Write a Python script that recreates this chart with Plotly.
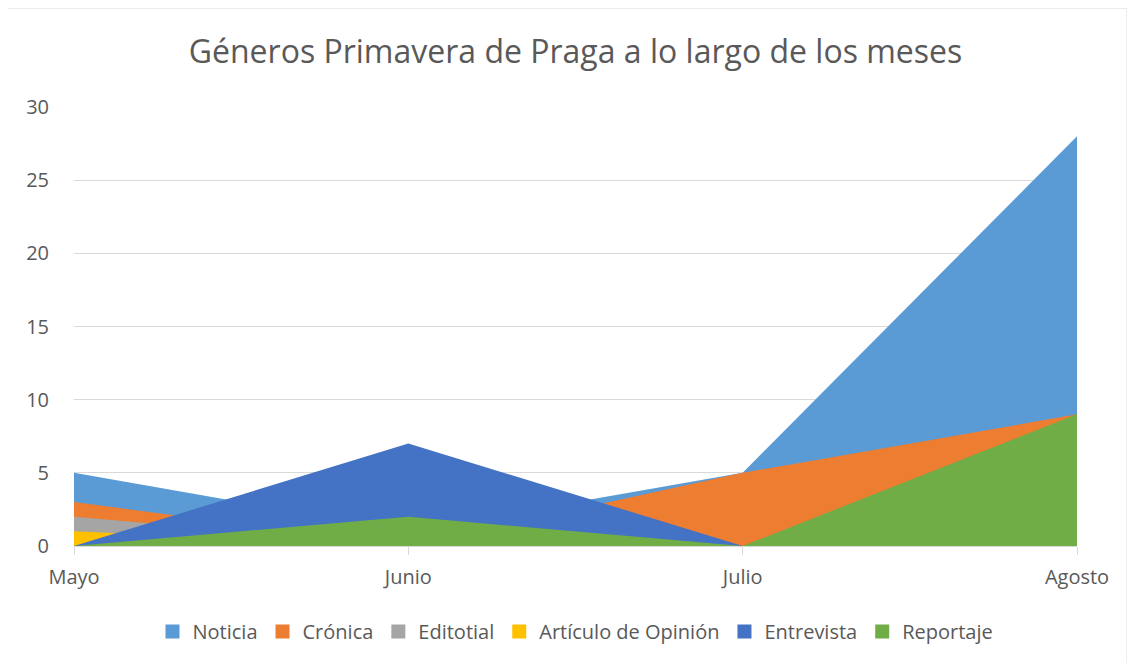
import plotly.graph_objects as go

months = ["Mayo", "Junio", "Julio", "Agosto"]
noticia = [5, 1, 5, 28]
cronica = [3, 0, 5, 9]
editotial = [2, 0, 0, 0]
articulo = [1, 0, 0, 0]
entrevista = [0, 7, 0, 0]
reportaje = [0, 2, 0, 9]

series = [
    ("Noticia", noticia, "#5B9BD5"),
    ("Crónica", cronica, "#ED7D31"),
    ("Editotial", editotial, "#A5A5A5"),
    ("Artículo de Opinión", articulo, "#FFC000"),
    ("Entrevista", entrevista, "#4472C4"),
    ("Reportaje", reportaje, "#70AD47"),
]

fig = go.Figure()
for name, vals, color in series:
    fig.add_trace(go.Scatter(
        x=months, y=vals, name=name, mode="lines",
        line=dict(width=0, color=color), fill="tozeroy",
        fillcolor=color, hoverinfo="x+y+name", showlegend=False,
    ))
# legend entries with square swatches
for name, vals, color in series:
    fig.add_trace(go.Scatter(
        x=[None], y=[None], name=name, mode="markers",
        marker=dict(symbol="square", size=14, color=color),
        showlegend=True, hoverinfo="skip",
    ))

font_family = "Open Sans, Lato, sans-serif"
H = 663
fig.update_layout(
    width=1135, height=H,
    margin=dict(l=66, r=66, t=99, b=125),
    paper_bgcolor="white", plot_bgcolor="white",
    title=dict(text="Géneros Primavera de Praga a lo largo de los meses",
               x=0.5, xanchor="center", y=1 - 44 / H, yanchor="middle",
               font=dict(family=font_family, size=32, color="#595959")),
    font=dict(family=font_family, color="#595959"),
    showlegend=True,
    legend=dict(orientation="h", x=0.5, xanchor="center", y=-0.195, yanchor="middle",
                font=dict(size=20, color="#595959"), traceorder="normal",
                itemwidth=30),
    xaxis=dict(type="category", range=[0, 3], showgrid=False,
               showline=True, linecolor="#D9D9D9", linewidth=1,
               ticks="outside", ticklen=8, tickcolor="#D9D9D9",
               tickfont=dict(size=20, color="#595959"), zeroline=False,
               ticklabelstandoff=5),
    yaxis=dict(range=[0, 30], tickvals=[0, 5, 10, 15, 20, 25, 30],
               showgrid=True, gridcolor="#D9D9D9", gridwidth=1,
               zeroline=False, showline=False, ticks="",
               tickfont=dict(size=20, color="#595959"),
               ticklabelstandoff=24),
    shapes=[dict(type="rect", xref="paper", yref="paper",
                 x0=(8 - 75) / 1002, x1=(1127 - 75) / 1002,
                 y0=-0.3, y1=1 + (107 - 8) / 439,
                 line=dict(color="#D9D9D9", width=1), fillcolor="rgba(0,0,0,0)",
                 layer="below")],
)

fig.write_html("out.html")
